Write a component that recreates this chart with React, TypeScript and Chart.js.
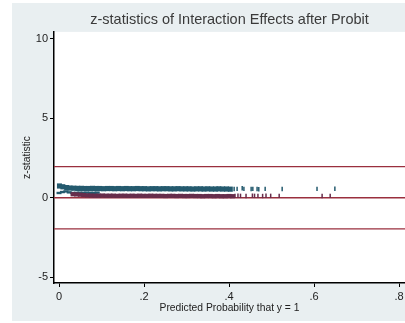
import React, { useEffect, useRef } from "react";
import { Chart, registerables } from "chart.js";
Chart.register(...registerables);

const titleText = "z-statistics of Interaction Effects after Probit";
const xAxisTitle = "Predicted Probability that y = 1";
const yAxisTitle = "z-statistic";
const xTickValues = [0, 0.2, 0.4, 0.6, 0.8];
const xTickLabels = ["0", ".2", ".4", ".6", ".8"];
const yTickValues = [-5, 0, 5, 10];
const yTickLabels = ["-5", "0", "5", "10"];
const referenceLines = [-1.96, 0, 1.96];

const blueUpperX = [0.001,0.009,0.018,0.026,0.035,0.044,0.053,0.061,0.070,0.079,0.088,0.096,0.105,0.114,0.123,0.131,0.140,0.149,0.158,0.166,0.175,0.184,0.193,0.201,0.210,0.219,0.228,0.236,0.245,0.254,0.263,0.271,0.280,0.289,0.298,0.306,0.315,0.324,0.333,0.341,0.350,0.359,0.368,0.376,0.385,0.394,0.403];
const blueUpperY = [0.74,0.69,0.64,0.61,0.60,0.59,0.59,0.58,0.58,0.59,0.58,0.58,0.57,0.58,0.58,0.57,0.58,0.57,0.58,0.57,0.57,0.58,0.57,0.57,0.56,0.57,0.57,0.56,0.57,0.57,0.56,0.56,0.57,0.56,0.56,0.56,0.55,0.56,0.56,0.55,0.56,0.55,0.55,0.56,0.55,0.55,0.54];

const blueLowerX = [0.000,0.008,0.016,0.024,0.032,0.041,0.049,0.057,0.065,0.074,0.082,0.090];
const blueLowerY = [0.30,0.36,0.40,0.34,0.30,0.31,0.32,0.31,0.32,0.31,0.31,0.32];

const maroonX = [0.033,0.041,0.050,0.058,0.067,0.076,0.085,0.093,0.102,0.111,0.120,0.128,0.137,0.146,0.155,0.163,0.172,0.181,0.190,0.198,0.207,0.216,0.225,0.233,0.242,0.251,0.260,0.268,0.277,0.286,0.295,0.303,0.312,0.321,0.330,0.338,0.347,0.356,0.365,0.373,0.382,0.391,0.400,0.408];
const maroonY = [0.22,0.21,0.19,0.17,0.15,0.14,0.13,0.13,0.14,0.13,0.13,0.13,0.12,0.13,0.13,0.12,0.13,0.12,0.13,0.12,0.12,0.13,0.12,0.12,0.12,0.11,0.12,0.12,0.11,0.12,0.11,0.11,0.12,0.11,0.11,0.10,0.11,0.11,0.10,0.11,0.10,0.10,0.11,0.10];

const blueSparseX = [0.412,0.419,0.431,0.435,0.452,0.456,0.466,0.470,0.485,0.525,0.607,0.649];
const blueSparseY = [0.55,0.56,0.60,0.56,0.55,0.56,0.55,0.54,0.56,0.55,0.56,0.57];
const maroonSparseX = [0.414,0.421,0.427,0.440,0.455,0.460,0.468,0.479,0.487,0.498,0.518,0.619,0.638];
const maroonSparseY = [0.12,0.13,0.12,0.11,0.13,0.12,0.12,0.11,0.13,0.12,0.12,0.11,0.12];

const BLUE = "#245a6e";
const MAROON = "#672d4b";
const REFCOLOR = "#9a2f3e";
const FONT = "'Liberation Sans', Arial, sans-serif";

const toPts = (xs: number[], ys: number[]) => xs.map((x, i) => ({ x, y: ys[i] }));

export default function App() {
  const ref = useRef<HTMLCanvasElement | null>(null);
  useEffect(() => {
    if (!ref.current) return;
    const bgPlugin = {
      id: "bg",
      beforeDraw(chart: any) {
        const { ctx, chartArea } = chart;
        ctx.save();
        ctx.fillStyle = "#ffffff";
        ctx.fillRect(0, 0, chart.width, chart.height);
        ctx.fillStyle = "#e9eff1";
        ctx.fillRect(12, 3, chart.width - 12, chart.height - 5);
        ctx.fillStyle = "#ffffff";
        ctx.fillRect(chartArea.left, chartArea.top, chartArea.right - chartArea.left, chartArea.bottom - chartArea.top);
        ctx.restore();
      },
      beforeDatasetsDraw(chart: any) {
        const { ctx, chartArea, scales } = chart;
        ctx.save();
        ctx.strokeStyle = REFCOLOR;
        ctx.lineWidth = 1.3;
        referenceLines.forEach((v) => {
          const y = scales.y.getPixelForValue(v);
          ctx.beginPath();
          ctx.moveTo(chartArea.left, y);
          ctx.lineTo(chartArea.right, y);
          ctx.stroke();
        });
        ctx.restore();
      },
    };
    const common = { showLine: false, pointStyle: "line", pointRotation: 90 };
    const chart = new Chart(ref.current, {
      type: "scatter",
      data: {
        datasets: [
          { ...common, data: toPts(maroonX, maroonY), borderColor: MAROON, backgroundColor: MAROON, pointRadius: 2.1, pointBorderWidth: 5 },
          { ...common, data: toPts(maroonSparseX, maroonSparseY), borderColor: MAROON, backgroundColor: MAROON, pointRadius: 2.2, pointBorderWidth: 1.5 },
          { ...common, data: toPts(blueLowerX, blueLowerY), borderColor: BLUE, backgroundColor: BLUE, pointRadius: 1.2, pointBorderWidth: 5 },
          { ...common, data: toPts(blueUpperX, blueUpperY), borderColor: BLUE, backgroundColor: BLUE, pointRadius: 2.6, pointBorderWidth: 5 },
          { ...common, data: toPts(blueSparseX, blueSparseY), borderColor: BLUE, backgroundColor: BLUE, pointRadius: 2.2, pointBorderWidth: 1.5 },
        ] as any,
      },
      options: {
        responsive: false,
        devicePixelRatio: 1,
        animation: false,
        events: [],
        layout: { autoPadding: false, padding: { left: 12, right: 0, top: 0, bottom: 3 } },
        plugins: {
          legend: { display: false },
          tooltip: { enabled: false },
          title: {
            display: true,
            text: titleText,
            fullSize: false,
            align: "center",
            color: "#3a3a3a",
            padding: { top: 11.5, bottom: 3 },
            font: { family: FONT, size: 14.5, weight: "normal" },
          },
        },
        scales: {
          x: {
            type: "linear",
            min: -0.0118,
            max: 0.814,
            afterBuildTicks: (scale: any) => {
              scale.ticks = xTickValues.map((v) => ({ value: v }));
            },
            afterFit: (scale: any) => {
              scale.height = 37;
              scale.paddingLeft = 0;
              scale.paddingRight = 0;
            },
            ticks: {
              autoSkip: false,
              maxRotation: 0,
              padding: 3,
              color: "#222",
              font: { family: FONT, size: 11 },
              callback: (_v: any, i: number) => xTickLabels[i],
            },
            grid: { drawOnChartArea: false, drawTicks: true, tickLength: 4, color: "#000", lineWidth: 1 },
            border: { display: true, color: "#000", width: 1.5 },
            title: {
              display: true,
              text: xAxisTitle,
              color: "#222",
              font: { family: FONT, size: 10.3 },
              padding: { top: 0, bottom: 6 },
            },
          },
          y: {
            type: "linear",
            min: -5.36,
            max: 10.43,
            afterBuildTicks: (scale: any) => {
              scale.ticks = yTickValues.map((v) => ({ value: v }));
            },
            afterFit: (scale: any) => {
              scale.width = 42;
              scale.paddingTop = 0;
              scale.paddingBottom = 0;
            },
            ticks: {
              autoSkip: false,
              padding: 2,
              color: "#222",
              font: { family: FONT, size: 11 },
              callback: (_v: any, i: number) => yTickLabels[i],
            },
            grid: { drawOnChartArea: false, drawTicks: true, tickLength: 4, color: "#000", lineWidth: 1 },
            border: { display: true, color: "#000", width: 1.5 },
            title: {
              display: true,
              text: yAxisTitle,
              color: "#222",
              font: { family: FONT, size: 10.3 },
              padding: { top: 8.5, bottom: 0 },
            },
          },
        },
      } as any,
      plugins: [bgPlugin],
    });
    return () => chart.destroy();
  }, []);
  return (
    <div style={{ position: "fixed", left: 0, top: 0, width: 405, height: 323 }}>
      <canvas ref={ref} width={405} height={323} style={{ display: "block", width: 405, height: 323 }} />
    </div>
  );
}
